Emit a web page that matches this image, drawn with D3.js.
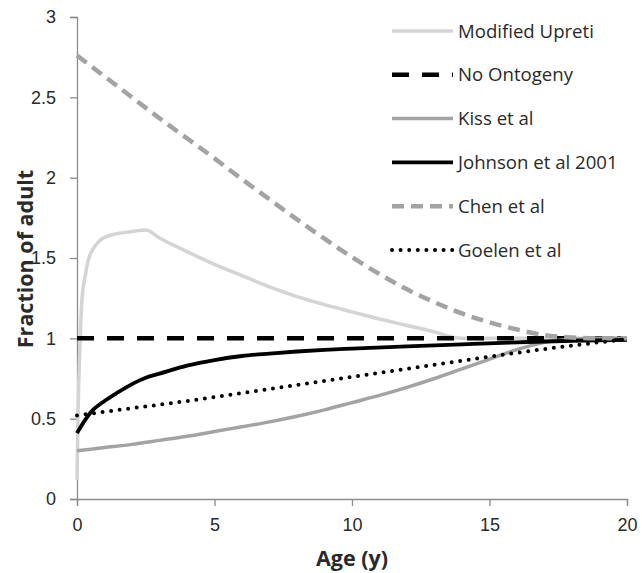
<!DOCTYPE html>
<html>
<head>
<meta charset="utf-8">
<script src="https://d3js.org/d3.v7.min.js"></script>
<style>
    body { margin: 0; background: #fff; }
    svg { display: block; font-family: "Open Sans", "Noto Sans", sans-serif; }
    .tick text { fill: #2a2a2a; font-size: 18px; }
    .axis path, .axis line { stroke: #8c8c8c; stroke-width: 1.3; }
    .label { font-weight: bold; font-size: 21.5px; fill: #2a2a2a; }
    .legend text { font-size: 18.6px; fill: #2a2a2a; }
</style>
</head>
<body>
<svg></svg>
<script>
// series: [age (y), fraction of adult]
var seriesNames = ["Modified Upreti", "No Ontogeny", "Kiss et al", "Johnson et al 2001", "Chen et al", "Goelen et al"]

var upreti = [[0, 0.12], [0.04, 0.55], [0.1, 0.92], [0.18, 1.24], [0.3, 1.39], [0.4, 1.48], [0.6, 1.56],
    [0.84, 1.61], [1.2, 1.64], [1.56, 1.655], [2, 1.665], [2.5, 1.675], [3, 1.625], [4, 1.54], [5, 1.46],
    [6, 1.39], [7, 1.32], [8, 1.26], [9, 1.21], [10, 1.165], [11, 1.12], [12, 1.08], [13, 1.04], [13.7, 1.005],
    [14, 1.0], [20, 1.0]]

var noOntogeny = [[0, 1], [20, 1]]

var kiss = [[0, 0.30], [1, 0.32], [2, 0.34], [3, 0.365], [4, 0.39], [5, 0.42], [6, 0.45], [7, 0.48],
    [8, 0.515], [9, 0.555], [10, 0.6], [11, 0.645], [12, 0.695], [13, 0.75], [14, 0.81], [15, 0.87],
    [16, 0.93], [17, 0.975], [18, 0.995], [19, 1.0], [20, 1.0]]

var johnson = [[0, 0.41], [0.25, 0.48], [0.5, 0.54], [1, 0.61], [1.5, 0.665], [2, 0.715], [2.5, 0.755],
    [3, 0.78], [4, 0.83], [5, 0.865], [6, 0.89], [7, 0.905], [8, 0.918], [9, 0.928], [10, 0.936],
    [12, 0.95], [14, 0.963], [16, 0.975], [18, 0.985], [20, 0.99]]

var chen = [[0, 2.76], [1, 2.63], [2, 2.5], [3, 2.37], [4, 2.245], [5, 2.12], [6, 1.99], [7, 1.865],
    [8, 1.74], [9, 1.62], [10, 1.505], [11, 1.4], [12, 1.305], [13, 1.225], [14, 1.155], [15, 1.1],
    [16, 1.055], [17, 1.02], [18, 1.005], [19, 1.0], [20, 1.0]]

var goelen = [[0, 0.52], [2, 0.565], [4, 0.61], [6, 0.66], [8, 0.71], [10, 0.76], [12, 0.81],
    [14, 0.86], [16, 0.91], [18, 0.955], [20, 0.995]]

var allSeries = [upreti, noOntogeny, kiss, johnson, chen, goelen]

var xTicks = [0, 5, 10, 15, 20]
var yTicks = [0, 0.5, 1, 1.5, 2, 2.5, 3]

// line looks, same order as seriesNames
var styles = [
    { color: "#d4d4d4", width: 3.5, dash: null, cap: "butt" },
    { color: "#000000", width: 4.5, dash: "17 13", cap: "butt" },
    { color: "#a3a3a3", width: 3.5, dash: null, cap: "butt" },
    { color: "#000000", width: 3.8, dash: null, cap: "butt" },
    { color: "#a3a3a3", width: 4.5, dash: "12 7", cap: "butt" },
    { color: "#000000", width: 4, dash: "0 8.6", cap: "round" }
]

var makeTranslateString = function (x, y) {
    return "translate(" + x + "," + y + ")";
}

var drawAxes = function (svg, graph, margins, xScale, yScale) {
    var xAxis = d3.axisBottom(xScale)
        .tickValues(xTicks)
        .tickSize(7)
        .tickPadding(12)
        .tickFormat(d3.format("d"))

    var yAxis = d3.axisLeft(yScale)
        .tickValues(yTicks)
        .tickSize(7)
        .tickPadding(14)
        .tickFormat(function (d) { return d })

    svg.append("g")
        .classed("axis", true)
        .attr("transform", makeTranslateString(margins.left, margins.top + graph.height))
        .call(xAxis)
    svg.append("g")
        .classed("axis", true)
        .attr("transform", makeTranslateString(margins.left, margins.top))
        .call(yAxis)
}

var drawLines = function (target, xScale, yScale) {
    var lineGenerator = d3.line()
        .x(function (p) { return xScale(p[0]) })
        .y(function (p) { return yScale(p[1]) })
        .curve(d3.curveMonotoneX)

    target.selectAll("path.series")
        .data(allSeries)
        .enter()
        .append("path")
        .classed("series", true)
        .attr("fill", "none")
        .attr("stroke", function (d, i) { return styles[i].color })
        .attr("stroke-width", function (d, i) { return styles[i].width })
        .attr("stroke-dasharray", function (d, i) { return styles[i].dash })
        .attr("stroke-linecap", function (d, i) { return styles[i].cap })
        .attr("d", lineGenerator)
}

var drawLegend = function (svg) {
    var rows = svg.append("g")
        .classed("legend", true)
        .selectAll("g")
        .data(seriesNames)
        .enter()
        .append("g")
        .attr("transform", function (d, i) { return makeTranslateString(392, 31 + i * 43.8) })

    rows.append("line")
        .attr("x1", 0)
        .attr("x2", 61)
        .attr("stroke", function (d, i) { return styles[i].color })
        .attr("stroke-width", function (d, i) { return styles[i].width })
        .attr("stroke-dasharray", function (d, i) { return styles[i].dash })
        .attr("stroke-linecap", function (d, i) { return styles[i].cap })

    rows.append("text")
        .attr("x", 66)
        .attr("dy", "0.35em")
        .text(function (d) { return d })
}

var drawLabels = function (svg, graph, margins) {
    svg.append("text")
        .classed("label", true)
        .attr("text-anchor", "middle")
        .attr("x", margins.left + graph.width / 2)
        .attr("y", 566)
        .text("Age (y)")

    svg.append("text")
        .classed("label", true)
        .attr("text-anchor", "middle")
        .attr("transform", makeTranslateString(33, 259) + " rotate(-90)")
        .text("Fraction of adult")
}

var initGraph = function () {
    var screen = { width: 642, height: 573 }
    var margins = { left: 77, right: 15, top: 17, bottom: 74 }
    var graph = {
        width: screen.width - margins.left - margins.right,
        height: screen.height - margins.top - margins.bottom
    }

    var svg = d3.select("svg")
        .attr("width", screen.width)
        .attr("height", screen.height)

    var xScale = d3.scaleLinear().domain([0, 20]).range([0, graph.width])
    var yScale = d3.scaleLinear().domain([0, 3]).range([graph.height, 0])

    drawAxes(svg, graph, margins, xScale, yScale)

    var target = svg.append("g")
        .attr("transform", makeTranslateString(margins.left, margins.top))
    drawLines(target, xScale, yScale)
    drawLegend(svg)
    drawLabels(svg, graph, margins)
}

initGraph()
</script>
</body>
</html>
